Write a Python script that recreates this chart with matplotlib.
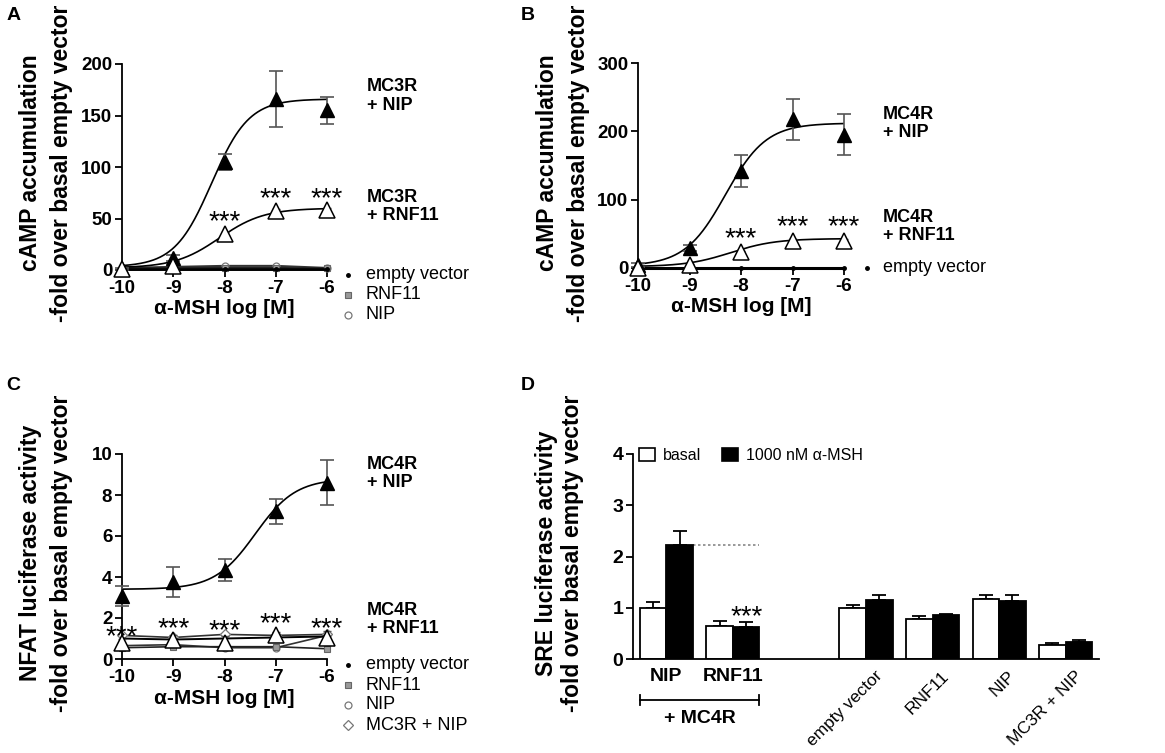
import numpy as np
import matplotlib
matplotlib.use("Agg")
import matplotlib.pyplot as plt
from matplotlib.patches import Patch
from matplotlib.transforms import blended_transform_factory

plt.rcParams['font.family'] = ['Liberation Sans', 'DejaVu Sans']

# ---------------- data ----------------
log_conc = [-10, -9, -8, -7, -6]
xtick_labels = ['-10', '-9', '-8', '-7', '-6']

# Panel A (cAMP, MC3R)
A_nip = [1, 12, 105, 166, 155]
A_nip_err = [1, 3, 8, 27, 13]
A_rnf = [1, 4, 35, 57, 58]
A_rnf_err = [0.5, 1, 2, 2, 2]
A_empty = [1, 1, 1, 1, 1]
A_rnf_ctrl = [2, 2, 2, 2, 1.5]
A_nip_ctrl = [2, 3, 4, 4, 2]
A_fit_nip = dict(bottom=3, top=166, logec50=-8.25, hill=1.2)
A_fit_rnf = dict(bottom=2, top=60, logec50=-8.1, hill=1.0)
A_stars_x = [-8, -7, -6]
A_stars_y = [55, 78, 78]

# Panel B (cAMP, MC4R)
B_nip = [5, 29, 142, 218, 195]
B_nip_err = [3, 4, 23, 30, 30]
B_rnf = [0, 5, 23, 40, 40]
B_rnf_err = [0.5, 1, 2, 3, 3]
B_empty = [0, 0, 0, 0, 0]
B_fit_nip = dict(bottom=3, top=212, logec50=-8.3, hill=1.1)
B_fit_rnf = dict(bottom=2, top=43, logec50=-8.2, hill=1.0)
B_stars_x = [-8, -7, -6]
B_stars_y = [56, 73, 73]

# Panel C (NFAT)
C_nip = [3.07, 3.76, 4.34, 7.2, 8.6]
C_nip_err = [0.5, 0.75, 0.55, 0.6, 1.1]
C_rnf = [0.8, 0.92, 0.8, 1.15, 1.02]
C_rnf_err = [0.2, 0.25, 0.3, 0.15, 0.35]
C_empty = [1.0, 0.95, 1.0, 1.05, 1.1]
C_rnf_ctrl = [0.55, 0.6, 0.6, 0.6, 0.5]
C_nip_ctrl = [0.65, 0.7, 0.55, 0.55, 1.15]
C_mc3r_nip = [1.15, 1.05, 1.2, 1.15, 1.2]
C_fit_nip = dict(bottom=3.4, top=8.8, logec50=-7.4, hill=1.1)
C_stars_x = [-10, -9, -8, -7, -6]
C_stars_y = [1.5, 1.9, 1.8, 2.15, 1.9]

# Panel D (SRE)
D_groups = ['NIP', 'RNF11', '', 'empty vector', 'RNF11', 'NIP', 'MC3R + NIP']
D_basal = [1.0, 0.65, np.nan, 1.0, 0.79, 1.17, 0.27]
D_basal_err = [0.12, 0.1, np.nan, 0.06, 0.05, 0.08, 0.05]
D_msh = [2.22, 0.62, np.nan, 1.15, 0.85, 1.13, 0.33]
D_msh_err = [0.28, 0.11, np.nan, 0.09, 0.03, 0.11, 0.05]

# ---------------- helpers ----------------
W, H = 1165, 753
fig = plt.figure(figsize=(W / 100, H / 100), dpi=100)


def px_axes(x0, x1, y0, y1):
    return fig.add_axes([x0 / W, 1 - y1 / H, (x1 - x0) / W, (y1 - y0) / H])


def fourpl(x, p):
    return p['bottom'] + (p['top'] - p['bottom']) / (1 + 10 ** ((p['logec50'] - x) * p['hill']))


TICK_FS = 13.5
LBL_FS = 16.5
SIDE_FS = 13
LEG_FS = 13
ERR_C = '#555555'


def style_axes(ax, ylim, yticks):
    for s in ['top', 'right']:
        ax.spines[s].set_visible(False)
    for s in ['left', 'bottom']:
        ax.spines[s].set_linewidth(1.3)
    ax.set_xlim(-10, -6)
    ax.set_ylim(*ylim)
    ax.set_xticks(log_conc)
    ax.set_xticklabels(xtick_labels, fontweight='bold', fontsize=TICK_FS)
    ax.set_yticks(yticks)
    ax.set_yticklabels([str(v) for v in yticks], fontweight='bold', fontsize=TICK_FS)
    ax.tick_params(direction='out', length=5, width=1.3, pad=2)
    ax.set_xlabel('α-MSH log [M]', fontweight='bold', fontsize=15, labelpad=2)


def curve(ax, p):
    xx = np.linspace(-10, -6, 300)
    ax.plot(xx, fourpl(xx, p), color='black', lw=1.2, zorder=3)


def filled_tri(ax, y, err):
    ax.errorbar(log_conc, y, yerr=err, fmt='none', ecolor=ERR_C, elinewidth=1.2,
                capsize=5, capthick=1.2, zorder=4, clip_on=False)
    ax.plot(log_conc, y, ls='none', marker='^', ms=10, mfc='black', mec='black',
            zorder=5, clip_on=False)


def open_tri(ax, y, err):
    ax.errorbar(log_conc, y, yerr=err, fmt='none', ecolor=ERR_C, elinewidth=1.0,
                capsize=3, capthick=1.0, zorder=4, clip_on=False)
    ax.plot(log_conc, y, ls='none', marker='^', ms=12, mfc='white', mec='black',
            mew=1.1, zorder=6, clip_on=False)


def stars(ax, xs, ys, fs=20):
    for x, y in zip(xs, ys):
        ax.annotate('***', xy=(x, y), xytext=(0, -0.58 * fs), textcoords='offset points',
                    ha='center', va='baseline', fontsize=fs, zorder=7, annotation_clip=False)


def side_label(ax, xf, yf, txt):
    ax.text(xf, yf, txt, transform=ax.transAxes, ha='left', va='top', fontsize=SIDE_FS,
            fontweight='bold', linespacing=1.1)


def legend_rows(ax, xm, xt, ys, items):
    for y, (lab, kw) in zip(ys, items):
        ax.plot([xm], [y], transform=ax.transAxes, clip_on=False, ls='none', **kw)
        ax.text(xt, y, lab, transform=ax.transAxes, ha='left', va='center', fontsize=LEG_FS)


def ylabel2(xc1, xc2, yc, l1, l2):
    fig.text(xc1 / W, 1 - yc / H, l1, rotation=90, ha='center', va='center',
             fontsize=LBL_FS, fontweight='bold')
    fig.text(xc2 / W, 1 - yc / H, l2, rotation=90, ha='center', va='center',
             fontsize=LBL_FS, fontweight='bold')


dot_kw = dict(marker='o', ms=2.5, mfc='black', mec='black')
sq_kw = dict(marker='s', ms=5, mfc='#999999', mec='#666666', mew=0.8)
circ_kw = dict(marker='o', ms=5, mfc='white', mec='#777777', mew=0.9)
dia_kw = dict(marker='D', ms=5, mfc='white', mec='#777777', mew=0.9)

# ---------------- Panel A ----------------
axA = px_axes(122, 327, 64, 270)
style_axes(axA, (0, 200), [0, 50, 100, 150, 200])
axA.plot(log_conc, A_nip_ctrl, color='#333333', lw=1.5, zorder=2, clip_on=False, **circ_kw)
axA.plot(log_conc, A_rnf_ctrl, color='#222222', lw=1.5, zorder=2, clip_on=False, **sq_kw)
axA.plot(log_conc, A_empty, color='black', lw=1.8, zorder=2, clip_on=False, **dot_kw)
curve(axA, A_fit_nip)
curve(axA, A_fit_rnf)
filled_tri(axA, A_nip, A_nip_err)
open_tri(axA, A_rnf, A_rnf_err)
stars(axA, A_stars_x, A_stars_y)
side_label(axA, 1.195, 0.93, 'MC3R\n+ NIP')
side_label(axA, 1.195, 0.395, 'MC3R\n+ RNF11')
legend_rows(axA, 1.10, 1.19, [-0.024, -0.121, -0.218],
            [('empty vector', dot_kw), ('RNF11', sq_kw), ('NIP', circ_kw)])
ylabel2(31, 62, 163, 'cAMP accumulation', '-fold over basal empty vector')
fig.text(14 / W, 1 - 15 / H, 'A', ha='center', va='center', fontsize=14, fontweight='bold')

# ---------------- Panel B ----------------
axB = px_axes(638, 844, 63, 268)
style_axes(axB, (0, 300), [0, 100, 200, 300])
axB.plot(log_conc, B_empty, color='black', lw=2.2, zorder=2, clip_on=False, **dot_kw)
curve(axB, B_fit_nip)
curve(axB, B_fit_rnf)
filled_tri(axB, B_nip, B_nip_err)
open_tri(axB, B_rnf, B_rnf_err)
stars(axB, B_stars_x, B_stars_y)
side_label(axB, 1.19, 0.79, 'MC4R\n+ NIP')
side_label(axB, 1.19, 0.29, 'MC4R\n+ RNF11')
legend_rows(axB, 1.11, 1.19, [0.0], [('empty vector', dot_kw)])
ylabel2(547, 578, 163, 'cAMP accumulation', '-fold over basal empty vector')
fig.text(528 / W, 1 - 15 / H, 'B', ha='center', va='center', fontsize=14, fontweight='bold')

# ---------------- Panel C ----------------
axC = px_axes(122, 327, 454, 659)
style_axes(axC, (0, 10), [0, 2, 4, 6, 8, 10])
axC.plot(log_conc, C_nip_ctrl, color='#333333', lw=1.2, zorder=2, clip_on=False, **circ_kw)
axC.plot(log_conc, C_rnf_ctrl, color='#222222', lw=1.2, zorder=2, clip_on=False, **sq_kw)
axC.plot(log_conc, C_mc3r_nip, color='#333333', lw=1.2, zorder=2, clip_on=False, **dia_kw)
axC.plot(log_conc, C_empty, color='black', lw=1.4, zorder=2, clip_on=False, **dot_kw)
curve(axC, C_fit_nip)
filled_tri(axC, C_nip, C_nip_err)
open_tri(axC, C_rnf, C_rnf_err)
stars(axC, C_stars_x, C_stars_y)
side_label(axC, 1.195, 0.99, 'MC4R\n+ NIP')
side_label(axC, 1.195, 0.28, 'MC4R\n+ RNF11')
legend_rows(axC, 1.10, 1.19, [-0.029, -0.127, -0.224, -0.322],
            [('empty vector', dot_kw), ('RNF11', sq_kw), ('NIP', circ_kw), ('MC3R + NIP', dia_kw)])
ylabel2(31, 62, 553, 'NFAT luciferase activity', '-fold over basal empty vector')
fig.text(13 / W, 1 - 385 / H, 'C', ha='center', va='center', fontsize=14, fontweight='bold')

# ---------------- Panel D ----------------
axD = px_axes(633, 1099, 454, 659)
pos = np.arange(len(D_groups))
bw = 0.4
axD.bar(pos - bw / 2, D_basal, width=bw, color='white', edgecolor='black', lw=1.3, zorder=2)
axD.bar(pos + bw / 2, D_msh, width=bw, color='black', edgecolor='black', lw=1.3, zorder=2)
zeros = [0] * len(pos)
axD.errorbar(pos - bw / 2, D_basal, yerr=[zeros, D_basal_err], fmt='none', ecolor='black',
             elinewidth=1.3, capsize=5, capthick=1.3, zorder=1)
axD.errorbar(pos + bw / 2, D_msh, yerr=[zeros, D_msh_err], fmt='none', ecolor='black',
             elinewidth=1.3, capsize=5, capthick=1.3, zorder=1)
axD.plot([pos[0] + bw, pos[1] + bw], [D_msh[0], D_msh[0]], ls=(0, (1.5, 1.5)),
         color='#888888', lw=1.2, zorder=1)
axD.set_xlim(-0.5, len(D_groups) - 0.5)
axD.set_ylim(0, 4)
for s in ['top', 'right']:
    axD.spines[s].set_visible(False)
for s in ['left', 'bottom']:
    axD.spines[s].set_linewidth(1.3)
axD.set_yticks([0, 1, 2, 3, 4])
axD.set_yticklabels(['0', '1', '2', '3', '4'], fontweight='bold', fontsize=14)
axD.tick_params(axis='y', direction='out', length=5, width=1.3, pad=2)
axD.set_xticks([])
trD = blended_transform_factory(axD.transData, axD.transAxes)
for i, lab in enumerate(D_groups):
    if not lab:
        continue
    if i < 2:
        axD.text(pos[i], -0.085, lab, transform=trD, ha='center', va='center',
                 fontsize=14, fontweight='bold')
    else:
        axD.text(pos[i] + 0.13, -0.045, lab, transform=trD, ha='right', va='top',
                 rotation=45, rotation_mode='anchor', fontsize=12.5)
axD.plot([pos[0] - 0.39, pos[1] + 0.39], [-0.2, -0.2], transform=trD, color='black',
         lw=1.3, clip_on=False)
for xe in [pos[0] - 0.39, pos[1] + 0.39]:
    axD.plot([xe, xe], [-0.225, -0.175], transform=trD, color='black', lw=1.3, clip_on=False)
axD.text((pos[0] + pos[1]) / 2, -0.29, '+ MC4R', transform=trD, ha='center', va='center',
         fontsize=14, fontweight='bold')
stars(axD, [pos[1] + bw / 2], [1.0])
axD.legend(handles=[Patch(facecolor='white', edgecolor='black', lw=1.2),
                    Patch(facecolor='black', edgecolor='black', lw=1.2)],
           labels=['basal', '1000 nM α-MSH'], loc='upper left', bbox_to_anchor=(0.0, 1.06),
           ncol=2, frameon=False, fontsize=11.5, handlelength=1.0, handleheight=0.9,
           handletextpad=0.5, columnspacing=1.3, borderaxespad=0.0)
ylabel2(547, 573, 553, 'SRE luciferase activity', '-fold over basal empty vector')
fig.text(528 / W, 1 - 385 / H, 'D', ha='center', va='center', fontsize=14, fontweight='bold')

fig.savefig('out.png', dpi=100)
